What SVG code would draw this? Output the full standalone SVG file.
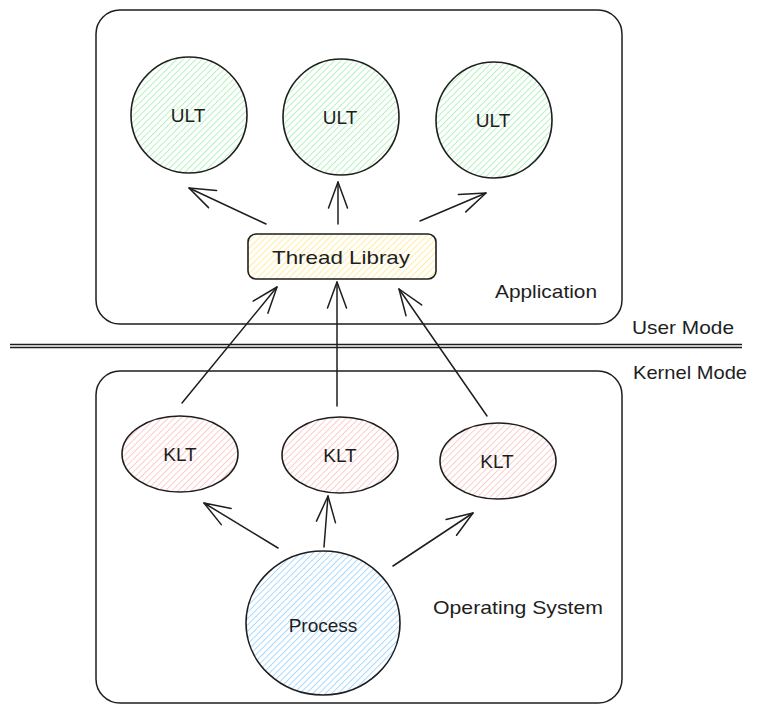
<svg xmlns="http://www.w3.org/2000/svg" width="757" height="713" viewBox="0 0 757 713">
<defs>
<pattern id="hGreen" width="4.5" height="4.5" patternUnits="userSpaceOnUse" patternTransform="rotate(45)"><line x1="0" y1="0" x2="0" y2="4.5" stroke="#b2f2bb" stroke-width="1.9"/></pattern>
<pattern id="hRed" width="4.5" height="4.5" patternUnits="userSpaceOnUse" patternTransform="rotate(45)"><line x1="0" y1="0" x2="0" y2="4.5" stroke="#ffc9c9" stroke-width="1.9"/></pattern>
<pattern id="hBlue" width="4.5" height="4.5" patternUnits="userSpaceOnUse" patternTransform="rotate(45)"><line x1="0" y1="0" x2="0" y2="4.5" stroke="#a5d8ff" stroke-width="1.9"/></pattern>
<pattern id="hYellow" width="4.5" height="4.5" patternUnits="userSpaceOnUse" patternTransform="rotate(45)"><line x1="0" y1="0" x2="0" y2="4.5" stroke="#ffec99" stroke-width="1.9"/></pattern>
<marker id="arrow" viewBox="-30 -12 32 24" refX="0" refY="0" markerWidth="32" markerHeight="24" markerUnits="userSpaceOnUse" orient="auto">
<path d="M-26,-9.5 L0,0 L-26,9.5" fill="none" stroke="#1e1e1e" stroke-width="1.5" stroke-linecap="round" stroke-linejoin="round"/>
</marker>
<style>
.edge{fill:none;stroke:#1e1e1e;stroke-width:1.5;stroke-linecap:round}
.frame{fill:none;stroke:#1e1e1e;stroke-width:1.5}
.shape{stroke:#1e1e1e;stroke-width:1.6}
.lbl{font-family:"Liberation Sans","DejaVu Sans",sans-serif;font-size:19px;fill:#1e1e1e}
.c{text-anchor:middle}
</style>
</defs>
<rect width="757" height="713" fill="#ffffff"/>

<g id="application-frame">
<rect class="frame" x="96" y="10" width="526" height="314" rx="24"/>
<text class="lbl" x="495" y="298" textLength="102" lengthAdjust="spacingAndGlyphs">Application</text>
</g>

<g id="os-frame">
<rect class="frame" x="96" y="371" width="526" height="332" rx="24"/>
<text class="lbl" x="433" y="614" textLength="170" lengthAdjust="spacingAndGlyphs">Operating System</text>
</g>

<g id="mode-separator">
<line x1="10" y1="344.5" x2="742" y2="344.5" stroke="#1e1e1e" stroke-width="1.3"/>
<line x1="10" y1="347.5" x2="742" y2="347.5" stroke="#1e1e1e" stroke-width="1.3"/>
<text class="lbl" x="632" y="334" textLength="102" lengthAdjust="spacingAndGlyphs">User Mode</text>
<text class="lbl" x="633" y="379" textLength="114" lengthAdjust="spacingAndGlyphs">Kernel Mode</text>
</g>

<g id="ult-1">
<circle class="shape" cx="189" cy="115" r="58" fill="url(#hGreen)"/>
<text class="lbl c" x="188" y="122">ULT</text>
</g>
<g id="ult-2">
<circle class="shape" cx="341" cy="117" r="58" fill="url(#hGreen)"/>
<text class="lbl c" x="340" y="124">ULT</text>
</g>
<g id="ult-3">
<circle class="shape" cx="494" cy="120" r="58" fill="url(#hGreen)"/>
<text class="lbl c" x="493" y="127">ULT</text>
</g>

<g id="thread-library">
<rect class="shape" x="248" y="234" width="188" height="45" rx="8" fill="url(#hYellow)"/>
<text class="lbl c" x="341" y="264" textLength="138" lengthAdjust="spacingAndGlyphs">Thread Libray</text>
</g>

<g id="klt-1">
<ellipse class="shape" cx="180" cy="454" rx="58" ry="38" fill="url(#hRed)"/>
<text class="lbl c" x="180" y="461">KLT</text>
</g>
<g id="klt-2">
<ellipse class="shape" cx="340" cy="455" rx="58" ry="38" fill="url(#hRed)"/>
<text class="lbl c" x="340" y="462">KLT</text>
</g>
<g id="klt-3">
<ellipse class="shape" cx="498" cy="461" rx="58" ry="38" fill="url(#hRed)"/>
<text class="lbl c" x="497" y="468">KLT</text>
</g>

<g id="process">
<ellipse class="shape" cx="323" cy="623" rx="77" ry="72" fill="url(#hBlue)"/>
<text class="lbl c" x="323" y="632">Process</text>
</g>

<g id="connectors">
<line class="edge" x1="266" y1="224" x2="189" y2="188" marker-end="url(#arrow)"/>
<line class="edge" x1="338" y1="224" x2="338" y2="182" marker-end="url(#arrow)"/>
<line class="edge" x1="420" y1="221" x2="486" y2="193" marker-end="url(#arrow)"/>
<line class="edge" x1="182" y1="403" x2="277" y2="287" marker-end="url(#arrow)"/>
<line class="edge" x1="337" y1="406" x2="337" y2="282" marker-end="url(#arrow)"/>
<line class="edge" x1="487" y1="416" x2="399" y2="289" marker-end="url(#arrow)"/>
<line class="edge" x1="278" y1="548" x2="204" y2="503" marker-end="url(#arrow)"/>
<line class="edge" x1="324" y1="547" x2="328" y2="496" marker-end="url(#arrow)"/>
<line class="edge" x1="393" y1="566" x2="473" y2="513" marker-end="url(#arrow)"/>
</g>
</svg>
